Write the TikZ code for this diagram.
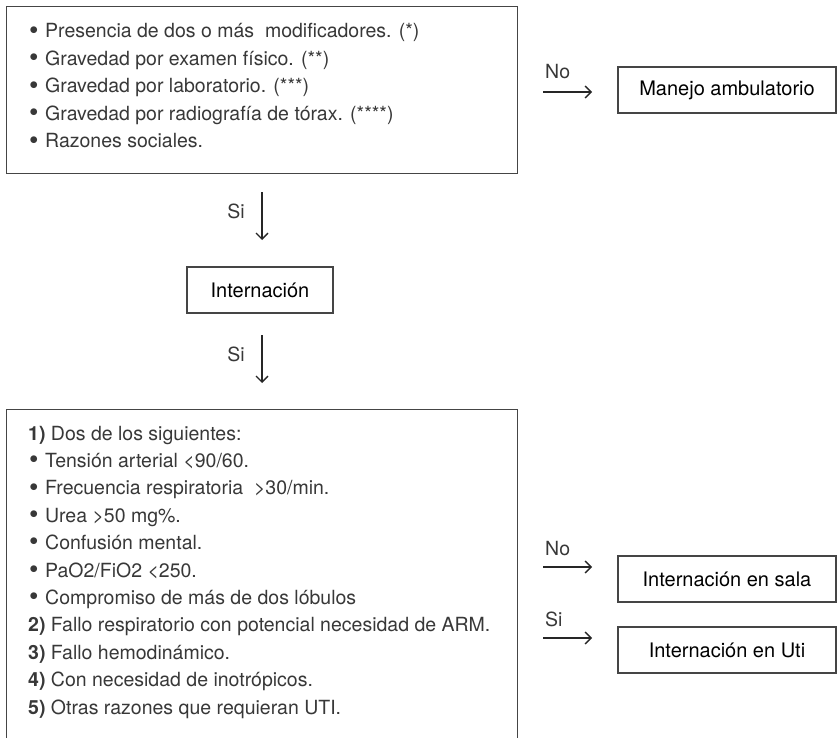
\documentclass[tikz,border=0pt]{standalone}
\usepackage{fontspec}
\setmainfont{TeX Gyre Heros}
\usetikzlibrary{arrows.meta}
\definecolor{ink}{HTML}{383838}
\definecolor{framec}{HTML}{454545}
\newcommand\bul{\makebox[16pt][l]{\raisebox{-1.2pt}{\fontsize{27}{27}\selectfont\textbullet}}}
\begin{document}
\begin{tikzpicture}[x=1pt,y=-1pt,
  boxframe/.style={draw=framec, line width=1.2pt, anchor=north west, inner sep=0pt},
  item/.style={anchor=base west, inner sep=0pt, text=ink, font=\fontsize{19.5}{23}\selectfont},
  tag/.style={inner sep=0pt, text=ink, font=\fontsize{19.5}{23}\selectfont},
  outbox/.style={draw=framec, line width=1.2pt, minimum width=218pt, minimum height=46pt,
    inner sep=0pt, text=black, font=\fontsize{20}{24}\selectfont},
  flow/.style={draw=black!85, line width=1.3pt,
    -{Straight Barb[length=6pt,width=12pt,line width=1.3pt]}}
]
\useasboundingbox (0,0) rectangle (837,738);
\fill[white] (0,0) rectangle (837,738);

% criteria for admission
\node[boxframe, minimum width=511pt, minimum height=167pt] (crit) at (6,6) {};
\node[item] (c1) at (29,38) {\bul Presencia de dos o más~ modificadores. (*)};
\node[item] (c2) at (29,65.5) {\bul Gravedad por examen físico. (**)};
\node[item] (c3) at (29,93) {\bul Gravedad por laboratorio. (***)};
\node[item] (c4) at (29,120.5) {\bul Gravedad por radiografía de tórax. (****)};
\node[item] (c5) at (29,148) {\bul Razones sociales.};

% outpatient branch
\node[outbox] (amb) at (727,90) {\makebox[190pt]{Manejo ambulatorio}};
\coordinate (n1a) at (543,92);
\coordinate (n1b) at (592,92);
\draw[flow] (n1a) -- (n1b);
\node[tag, anchor=base west] (no1) at (545,79) {No};

% admission
\coordinate (s1a) at (262,192);
\coordinate (s1b) at (262,240);
\draw[flow] (s1a) -- (s1b);
\node[tag] (si1) at (236,211) {Si};

\node[draw=framec, line width=1.2pt, minimum width=146pt, minimum height=46pt,
  inner sep=0pt, text=black, font=\fontsize{20}{24}\selectfont] (intern) at (260,290) {Internación};

\coordinate (s2a) at (262,335);
\coordinate (s2b) at (262,383);
\draw[flow] (s2a) -- (s2b);
\node[tag] (si2) at (236,354) {Si};

% severity criteria
\node[boxframe, minimum width=511pt, minimum height=330pt] (sev) at (6,409) {};
\node[item] (d1) at (28,440) {\textbf{1)} Dos de los siguientes:};
\node[item] (d2) at (29,467.4) {\bul Tensión arterial <90/60.};
\node[item] (d3) at (29,494.8) {\bul Frecuencia respiratoria~ >30/min.};
\node[item] (d4) at (29,522.2) {\bul Urea >50 mg\%.};
\node[item] (d5) at (29,549.6) {\bul Confusión mental.};
\node[item] (d6) at (29,577) {\bul PaO2/FiO2 <250.};
\node[item] (d7) at (29,604.4) {\bul Compromiso de más de dos lóbulos};
\node[item] (d8) at (28,631.8) {\textbf{2)} Fallo respiratorio con potencial necesidad de ARM.};
\node[item] (d9) at (28,659.2) {\textbf{3)} Fallo hemodinámico.};
\node[item] (d10) at (28,686.6) {\textbf{4)} Con necesidad de inotrópicos.};
\node[item] (d11) at (28,714) {\textbf{5)} Otras razones que requieran UTI.};

% ward
\node[outbox] (sala) at (727,579) {Internación en sala};
\coordinate (n2a) at (543,567);
\coordinate (n2b) at (592,567);
\draw[flow] (n2a) -- (n2b);
\node[tag, anchor=base west] (no2) at (545,555) {No};

% intensive care
\node[outbox] (uti) at (727,650) {Internación en Uti};
\coordinate (s3a) at (543,638);
\coordinate (s3b) at (592,638);
\draw[flow] (s3a) -- (s3b);
\node[tag, anchor=base west] (si3) at (545,626) {Si};
\end{tikzpicture}
\end{document}
